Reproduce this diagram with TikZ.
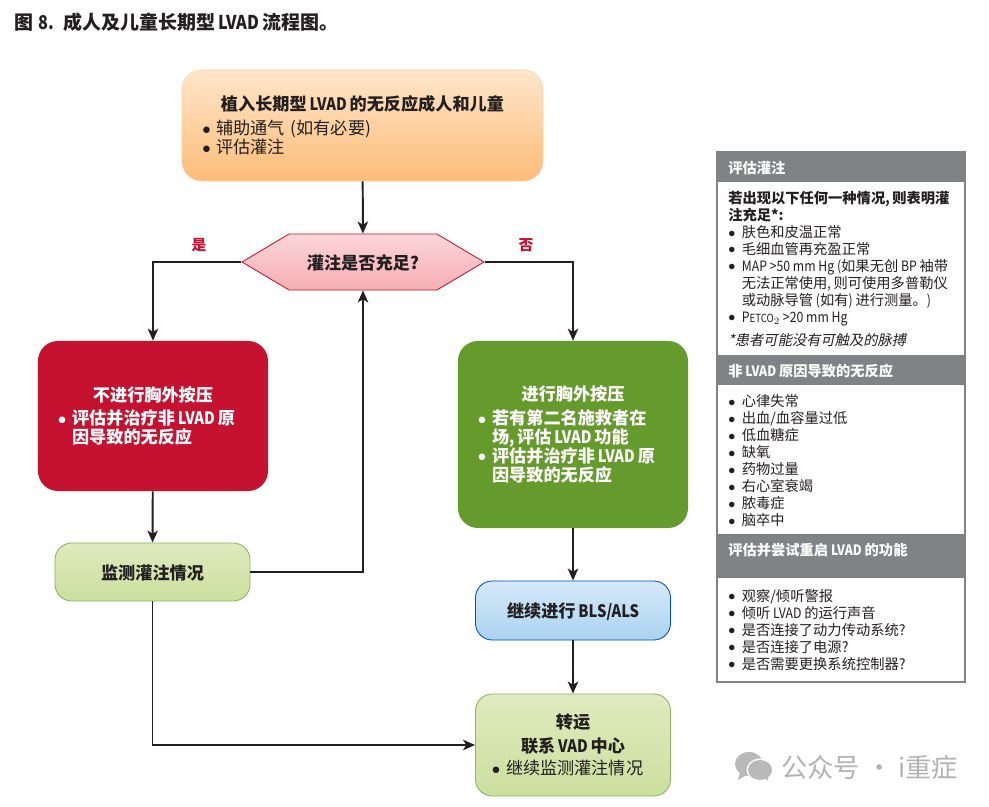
\documentclass[tikz,border=0pt]{standalone}
\usepackage{fontspec}
\setmainfont{Noto Sans CJK SC}[AutoFakeSlant=0.2]
\newfontfamily\latfont{Noto Sans CJK SC}[FakeStretch=.86]
\usetikzlibrary{shapes.symbols}
\usetikzlibrary{arrows.meta}
\tikzset{>={Stealth[length=.3cm, width=.26cm, inset=.08cm]}}
\definecolor{sidegray}{HTML}{808285}
\definecolor{redbox}{HTML}{C41230}
\definecolor{greenbox}{HTML}{659A2C}
\definecolor{inkblack}{HTML}{231F20}
\definecolor{softgreen}{HTML}{E0EABF}
\definecolor{deepgreen}{HTML}{CBDF9E}
\definecolor{softblue}{HTML}{D6E9F9}
\definecolor{deepblue}{HTML}{AAD3F0}
\definecolor{softorange}{HTML}{FEE6CB}
\definecolor{deeporange}{HTML}{FDBC78}
\definecolor{softpink}{HTML}{FBD5D8}
\definecolor{deeppink}{HTML}{F6AEB5}
\newcommand{\lat}[1]{{\latfont #1}}
\newcommand{\bul}{\makebox[.95em][l]{\raisebox{.05ex}{$\bullet$}}}
\newcommand{\bulf}{\makebox[.82em][l]{\raisebox{.05ex}{$\bullet$}}}
\newcommand{\headl}[1]{\makebox[\hsize]{\textbf{#1}}}
\tikzset{
    flowfont/.style={font=\fontsize{12.2}{13.5}\selectfont, text=inkblack},
    boldfont/.style={font=\fontsize{12.2}{13.5}\selectfont\bfseries, text=inkblack},
    sidefont/.style={font=\fontsize{10.15}{12.05}\selectfont, text=inkblack},
    flowbox/.style={rounded corners=.5cm, inner sep=0},
    oneline/.style={text depth=0pt},
    manyline/.style={align=left, execute at begin node=\vspace*{5pt}},
    softbox/.style={flowbox, rounded corners=.42cm, minimum width=4.875cm, line width=.6pt},
    greenish/.style={softbox, draw=greenbox!75, top color=softgreen, bottom color=deepgreen},
    hardbox/.style={flowbox, manyline, boldfont, text=white, minimum width=5.75cm, text width=4.75cm},
    sidehead/.style={anchor=west, inner sep=0, text=white, font=\fontsize{10.15}{12}\selectfont\bfseries},
    sidebody/.style={sidefont, anchor=north west, inner sep=0, align=left},
    answer/.style={font=\fontsize{10.5}{12}\selectfont\bfseries, text=redbox, inner sep=0},
    line/.style={->, inkblack, line width=1.4pt},
}
\begin{document}
\begin{tikzpicture}[x=.025cm, y=-.025cm]
    \useasboundingbox(0, 0)rectangle(989, 807);
    \node[anchor=west, inner sep=0, boldfont, font=\fontsize{13.5}{14}\selectfont\bfseries](title) at(14, 22){图\hspace{.3em}\lat{8.}\hspace{.45em}成人及儿童长期型\lat{\,LVAD\,}流程图。};

    \node[flowbox, manyline, flowfont, draw=softorange!80!orange, line width=.4pt, minimum width=9.025cm, minimum height=2.775cm, text width=8cm, top color=softorange, bottom color=deeporange](start) at(362.5, 125.5){\headl{植入长期型\lat{\,LVAD\,}的无反应成人和儿童}\\[-1.5pt]\bulf 辅助通气 (如有必要)\\\bulf 评估灌注};
    \node[signal, signal to=east and west, signal pointer angle=61.5, minimum width=6.05cm, minimum height=1.4cm, inner sep=0, draw=redbox, line width=.6pt, top color=softpink, bottom color=deeppink, boldfont, oneline](check) at(363, 262){灌注是否充足?};
    \node[hardbox, fill=redbox, minimum height=3.75cm](nocpr) at(153, 416){\headl{不进行胸外按压}\\[-1.5pt]\bulf 评估并治疗非\lat{\,LVAD\,}原\\\hspace*{.82em}因导致的无反应};
    \node[hardbox, fill=greenbox, minimum height=4.675cm](cpr) at(573, 434.5){\headl{进行胸外按压}\\[-1.5pt]\bulf 若有第二名施救者在\\\hspace*{.82em}场\lat{,\,}评估\lat{\,LVAD\,}功能\\\bulf 评估并治疗非\lat{\,LVAD\,}原\\\hspace*{.82em}因导致的无反应};
    \node[greenish, boldfont, oneline, minimum height=1.45cm](monitor) at(152.5, 572){监测灌注情况};
    \node[softbox, boldfont, oneline, draw=blue!55!cyan!70!black, minimum height=1.475cm, top color=softblue, bottom color=deepblue](bls) at(573, 610.5){继续进行\lat{\,BLS/ALS}};
    \node[greenish, manyline, flowfont, minimum height=2.55cm, text width=4.05cm](transfer) at(573, 745){\headl{转运}\\[-1.5pt]\headl{联系\lat{\,VAD\,}中心}\\[2pt]\bulf 继续监测灌注情况};

    \node[answer](yes) at(199, 245){是};
    \node[answer](no) at(526, 245){否};

    \draw[line](start)--(check);
    \draw[line](check.west)-|(nocpr.north);
    \draw[line](check.east)-|(cpr.north);
    \draw[line](nocpr)--(monitor);
    \draw[line](monitor.east)-|(check.south);
    \draw[line](cpr)--(bls);
    \draw[line](bls)--(transfer);
    \draw[line](monitor.south)|-(transfer.west);

    \fill[sidegray](717, 152)rectangle(965, 182);
    \fill[sidegray](717, 355)rectangle(965, 385);
    \fill[sidegray](717, 534)rectangle(965, 578);
    \draw[sidegray, line width=.8pt](717, 152)rectangle(965, 682);
    \node[sidehead](headA) at(728, 168){评估灌注};
    \node[sidehead](headB) at(728, 371){非\lat{ LVAD }原因导致的无反应};
    \node[sidehead](headC) at(728, 550){评估并尝试重启\lat{ LVAD }的功能};
    \node[sidebody](bodyA) at(728, 191){\textbf{若出现以下任何一种情况\lat{, }则表明灌}\\\textbf{注充足*:}\\\bul 肤色和皮温正常\\\bul 毛细血管再充盈正常\\\bul \lat{MAP >50 mm Hg (}如果无创\lat{ BP }袖带\\\hspace*{.95em}无法正常使用\lat{, }则可使用多普勒仪\\\hspace*{.95em}或动脉导管\lat{ (}如有\lat{) }进行测量。\lat{)}\\\bul \lat{P{\footnotesize ETCO}$_2$ >20 mm Hg}\\[4.5pt]\textit{*患者可能没有可触及的脉搏}};
    \node[sidebody](bodyB) at(728, 394.5){\bul 心律失常\\\bul 出血/血容量过低\\\bul 低血糖症\\\bul 缺氧\\\bul 药物过量\\\bul 右心室衰竭\\\bul 脓毒症\\\bul 脑卒中};
    \node[sidebody](bodyC) at(728, 589){\bul 观察/倾听警报\\\bul 倾听\lat{ LVAD }的运行声音\\\bul 是否连接了动力传动系统?\\\bul 是否连接了电源?\\\bul 是否需要更换系统控制器?};

    \fill[gray!55](749, 764)ellipse(14 and 12);
    \fill[gray!55](740, 772)--(738, 780)--(748, 774)--cycle;
    \fill[white](760, 770)ellipse(13.5 and 11.5);
    \fill[gray!55](760, 770)ellipse(12 and 10);
    \fill[gray!55](764, 776)--(768, 781)--(768, 772)--cycle;
    \node[font=\fontsize{18.7}{20}\selectfont, text=gray!60, anchor=west, inner sep=0](mark) at(781, 767){公众号 · i重症};
\end{tikzpicture}
\end{document}
